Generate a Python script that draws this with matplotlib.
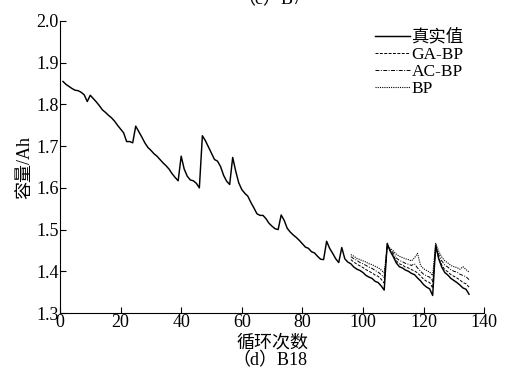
import matplotlib
matplotlib.use("Agg")
import matplotlib.pyplot as plt

plt.rcParams["font.family"] = ["Liberation Serif", "Noto Sans CJK SC"]
plt.rcParams["axes.unicode_minus"] = False

# --------------------------------
# Data
# --------------------------------

cycles = list(range(1, 136))
true_cap = [
    1.855, 1.848, 1.843, 1.838, 1.834, 1.833, 1.829, 1.823, 1.807, 1.822,
    1.814, 1.806, 1.797, 1.787, 1.781, 1.774, 1.768, 1.760, 1.750, 1.741,
    1.732, 1.711, 1.711, 1.708, 1.748, 1.735, 1.722, 1.708, 1.697, 1.690,
    1.682, 1.676, 1.668, 1.660, 1.653, 1.645, 1.634, 1.625, 1.617, 1.676,
    1.645, 1.628, 1.619, 1.617, 1.611, 1.600, 1.725, 1.713, 1.698, 1.683,
    1.668, 1.664, 1.651, 1.630, 1.616, 1.608, 1.673, 1.640, 1.612, 1.596,
    1.587, 1.580, 1.565, 1.552, 1.538, 1.534, 1.534, 1.526, 1.515, 1.508,
    1.502, 1.500, 1.535, 1.522, 1.503, 1.494, 1.487, 1.481, 1.474, 1.466,
    1.458, 1.455, 1.447, 1.444, 1.436, 1.429, 1.428, 1.472, 1.455, 1.443,
    1.430, 1.421, 1.457, 1.430, 1.422, 1.418, 1.410, 1.405, 1.402, 1.397,
    1.390, 1.386, 1.383, 1.376, 1.373, 1.365, 1.355, 1.467, 1.448, 1.435,
    1.420, 1.411, 1.408, 1.403, 1.400, 1.395, 1.392, 1.384, 1.377, 1.368,
    1.362, 1.358, 1.342, 1.463, 1.430, 1.410, 1.397, 1.391, 1.383, 1.378,
    1.373, 1.367, 1.360, 1.357, 1.345,
]

pred_cycles = list(range(96, 136))
ga_bp = [
    1.428, 1.422, 1.417, 1.413, 1.409, 1.404, 1.400, 1.396, 1.391, 1.388,
    1.381, 1.372, 1.462, 1.450, 1.438, 1.425, 1.418, 1.415, 1.410, 1.408,
    1.404, 1.401, 1.396, 1.389, 1.381, 1.376, 1.373, 1.360, 1.458, 1.432,
    1.415, 1.404, 1.399, 1.392, 1.388, 1.384, 1.379, 1.373, 1.370, 1.362,
]
ac_bp = [
    1.435, 1.430, 1.426, 1.421, 1.418, 1.414, 1.410, 1.407, 1.402, 1.398,
    1.392, 1.385, 1.460, 1.452, 1.444, 1.432, 1.426, 1.423, 1.419, 1.417,
    1.414, 1.418, 1.408, 1.400, 1.393, 1.389, 1.386, 1.375, 1.455, 1.440,
    1.425, 1.415, 1.410, 1.404, 1.400, 1.398, 1.393, 1.390, 1.387, 1.380,
]
bp = [
    1.440, 1.436, 1.431, 1.428, 1.425, 1.422, 1.418, 1.416, 1.412, 1.409,
    1.403, 1.396, 1.458, 1.455, 1.449, 1.441, 1.436, 1.433, 1.430, 1.428,
    1.425, 1.432, 1.443, 1.414, 1.406, 1.402, 1.398, 1.390, 1.467, 1.448,
    1.434, 1.425, 1.420, 1.414, 1.411, 1.409, 1.405, 1.411, 1.404, 1.398,
]

x_ticks = [0, 20, 40, 60, 80, 100, 120, 140]
y_ticks = [1.3, 1.4, 1.5, 1.6, 1.7, 1.8, 1.9, 2.0]


# --------------------------------
# Plot
# --------------------------------

fig = plt.figure(figsize=(5.07, 3.71), dpi=100)
ax = fig.add_axes([0.1183, 0.1563, 0.8367, 0.7871])

ax.plot(cycles, true_cap, color="black", lw=1.05, label="真实值")
ax.plot(pred_cycles, ga_bp, color="black", lw=0.7, ls=(0, (3, 1.5)), label="GA-BP")
ax.plot(pred_cycles, ac_bp, color="black", lw=0.7, ls=(0, (4, 1.5, 1, 1.5)), label="AC-BP")
ax.plot(pred_cycles, bp, color="black", lw=0.8, ls=(0, (1, 1)), label="BP")

ax.set_xlim(0, 140)
ax.set_ylim(1.3, 2.0)
ax.set_xticks(x_ticks)
ax.set_yticks(y_ticks)
ax.set_yticklabels([f"{v:.1f}" for v in y_ticks])
ax.tick_params(direction="in", length=4, labelsize=13, pad=1)

for side in ("top", "right"):
    ax.spines[side].set_visible(False)
for side in ("left", "bottom"):
    ax.spines[side].set_linewidth(0.8)

ax.set_ylabel("容量/Ah", fontsize=13, labelpad=2)
ax.set_xlabel("循环次数", fontsize=13, labelpad=2)

leg = ax.legend(
    loc="upper left",
    bbox_to_anchor=(375 / 507, 1 - 29 / 371),
    bbox_transform=fig.transFigure,
    frameon=False,
    fontsize=12.5,
    handlelength=2.0,
    handletextpad=0.1,
    labelspacing=0.05,
    borderaxespad=0,
    borderpad=0,
)

fig.text(270 / 507, 1.0, "（c）B7", ha="center", va="center", fontsize=13)
fig.text(270 / 507, 10 / 371, "（d）B18", ha="center", va="center", fontsize=13)

fig.savefig("out.png", dpi=100)
